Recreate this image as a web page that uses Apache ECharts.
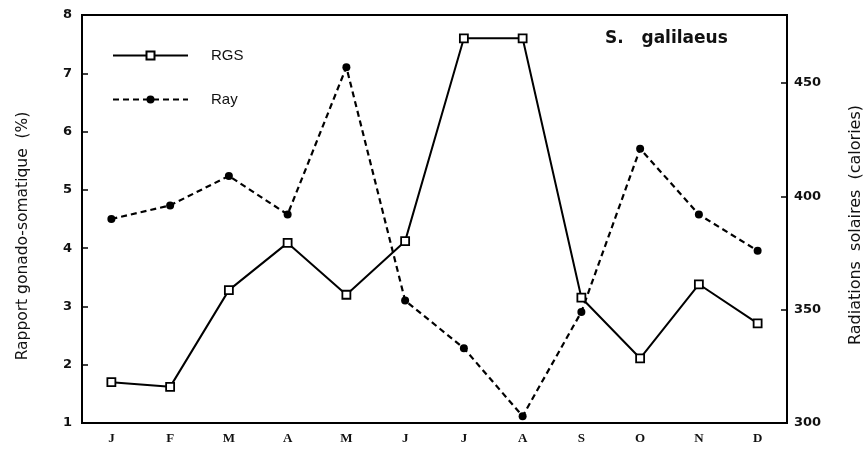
<!DOCTYPE html>
<html>
<head>
<meta charset="utf-8">
<script src="https://cdn.jsdelivr.net/npm/echarts@6/dist/echarts.min.js"></script>
<style>html,body{margin:0;padding:0;background:#fff}#c{width:864px;height:450px}</style>
</head>
<body>
<div id="c"></div>
<script>
const months = ['J','F','M','A','M','J','J','A','S','O','N','D'];
const rgs = [1.70, 1.62, 3.28, 4.09, 3.20, 4.12, 7.60, 7.60, 3.15, 2.11, 3.38, 2.71];
const ray = [390, 396, 409, 392, 457, 354, 333, 303, 349, 421, 392, 376];
const leftTicks = {min: 1, max: 8, interval: 1};
const rightTicks = {min: 300, max: 480, interval: 50};
const titleText = 'S.   galilaeus';
const leftName = 'Rapport gonado-somatique  (%)';
const rightName = 'Radiations  solaires  (calories)';

const chart = echarts.init(document.getElementById('c'), null, {renderer: 'canvas'});
const labelFont = {color: '#111', fontFamily: 'DejaVu Sans', fontWeight: 'bold', fontSize: 13};
chart.setOption({
  animation: false,
  backgroundColor: '#fff',
  title: {
    text: titleText, left: 605, top: 30, padding: 0,
    textStyle: {fontFamily: 'DejaVu Sans', fontWeight: 'bold', fontSize: 17, color: '#111'}
  },
  grid: {left: 82, right: 77, top: 15, bottom: 27, outerBoundsMode: 'none', containLabel: false,
         show: true, borderColor: '#000', borderWidth: 2, backgroundColor: 'transparent'},
  legend: {
    orient: 'vertical', left: 112, top: 48, padding: 0, itemWidth: 75, itemHeight: 10, itemGap: 29,
    textStyle: {fontFamily: 'Liberation Sans', fontSize: 15, color: '#111', padding: [0,0,0,18]},
    data: ['RGS', 'Ray']
  },
  xAxis: {
    type: 'category', data: months, boundaryGap: true,
    axisLine: {lineStyle: {color: '#000', width: 2}},
    axisTick: {inside: true, alignWithLabel: true, length: 5, lineStyle: {color: '#000', width: 1.5}},
    axisLabel: {margin: 9, color: '#111', fontFamily: 'Liberation Serif', fontWeight: 'bold', fontSize: 13},
    splitLine: {show: false}
  },
  yAxis: [
    {
      type: 'value', position: 'left', min: leftTicks.min, max: leftTicks.max, interval: leftTicks.interval,
      name: leftName, nameLocation: 'middle', nameGap: 51, nameRotate: 90,
      nameTextStyle: {fontFamily: 'DejaVu Sans', fontSize: 15.5, color: '#111', padding: [0, 34, 0, 0]},
      axisLine: {show: true, lineStyle: {color: '#000', width: 2}},
      axisTick: {show: true, inside: true, length: 6, lineStyle: {color: '#000', width: 1.5}},
      axisLabel: Object.assign({margin: 10}, labelFont),
      splitLine: {show: false}
    },
    {
      type: 'value', position: 'right', min: rightTicks.min, max: rightTicks.max, interval: rightTicks.interval,
      name: rightName, nameLocation: 'middle', nameGap: 61, nameRotate: 90,
      nameTextStyle: {fontFamily: 'DejaVu Sans', fontSize: 16, color: '#111', padding: [0, 12, 0, 0]},
      axisLine: {show: true, lineStyle: {color: '#000', width: 2}},
      axisTick: {show: true, inside: true, length: 6, lineStyle: {color: '#000', width: 1.5}},
      axisLabel: Object.assign({margin: 7, showMaxLabel: false}, labelFont),
      splitLine: {show: false}
    }
  ],
  series: [
    {
      name: 'RGS', type: 'line', yAxisIndex: 0, data: rgs,
      symbol: 'rect', symbolSize: 8,
      lineStyle: {color: '#000', width: 2, type: 'solid'},
      itemStyle: {color: '#fff', borderColor: '#000', borderWidth: 1.8},
      z: 3
    },
    {
      name: 'Ray', type: 'line', yAxisIndex: 1, data: ray,
      symbol: 'circle', symbolSize: 8,
      lineStyle: {color: '#000', width: 2.2, type: [6, 4]},
      itemStyle: {color: '#000', borderColor: '#000', borderWidth: 0},
      z: 2
    }
  ]
});
</script>
</body>
</html>
